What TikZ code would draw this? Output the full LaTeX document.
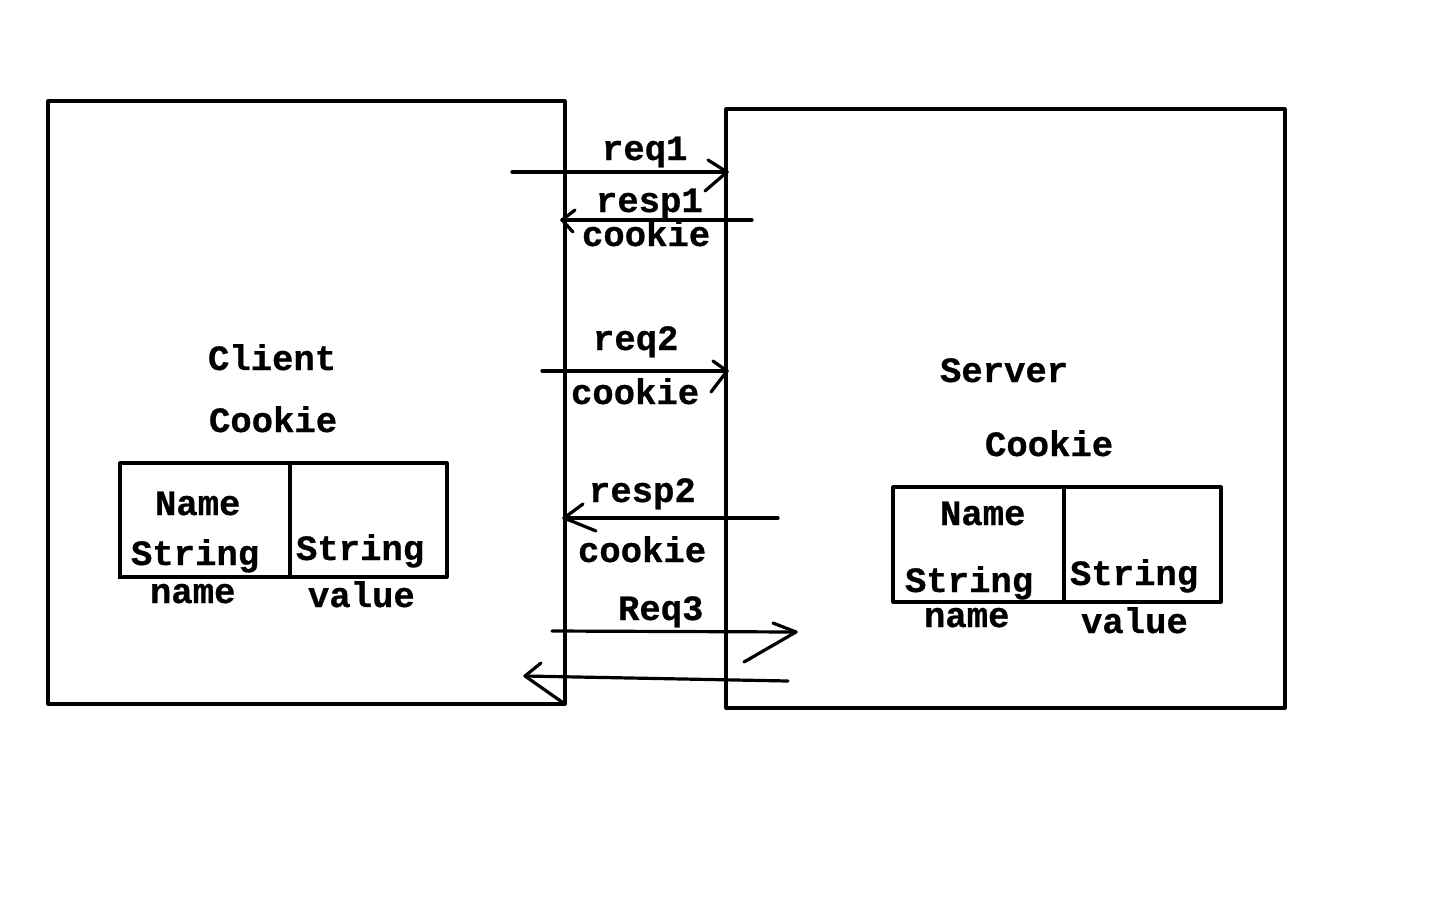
\documentclass[tikz,border=0pt]{standalone}
\usepackage{fontspec}
\newfontfamily\cmono{Liberation Mono}[BoldFeatures={FakeBold=0.7}]
\begin{document}
\begin{tikzpicture}[x=0.5pt,y=-0.5pt,
  ln/.style={line width=1.6pt,line cap=round,line join=round},
  lbl/.style={anchor=base west,inner sep=0pt,outer sep=0pt,font=\fontsize{17.8}{20}\cmono\bfseries}]
\useasboundingbox[fill=white] (0,0) rectangle (1440,900);
% boxes
\draw[ln,line cap=butt] (48,101) rectangle (565,704);
\draw[ln,line cap=butt] (726,109) rectangle (1285,708);
% client table
\draw[ln,line cap=butt] (120,463) rectangle (447,577);
\draw[ln,line cap=butt] (290,463) -- (290,577);
\draw[ln,line cap=butt] (118,577) -- (120,577);
% server table
\draw[ln,line cap=butt] (893,487) rectangle (1221,602);
\draw[ln,line cap=butt] (1064,487) -- (1064,602);
% texts
\node[lbl] (client) at (208,370) {Client};
\node[lbl] (ccookie) at (209,432) {Cookie};
\node[lbl] (cname) at (155,515) {Name};
\node[lbl] (cstr1) at (131,565) {String};
\node[lbl] (cname2) at (150,603) {name};
\node[lbl] (cstr2) at (296,560) {String};
\node[lbl] (cval) at (308,607) {value};
\node[lbl] (server) at (940,382) {Server};
\node[lbl] (scookie) at (985,456) {Cookie};
\node[lbl] (sname) at (940,525) {Name};
\node[lbl] (sstr1) at (905,592) {String};
\node[lbl] (sname2) at (924,627) {name};
\node[lbl] (sstr2) at (1070,585) {String};
\node[lbl] (sval) at (1081,633) {value};
\node[lbl] (req1) at (602,160) {req1};
\node[lbl] (resp1) at (596,212) {resp1};
\node[lbl] (ck1) at (582,246) {cookie};
\node[lbl] (req2) at (593,350) {req2};
\node[lbl] (ck2) at (571,404) {cookie};
\node[lbl] (resp2) at (589,502) {resp2};
\node[lbl] (ck3) at (578,562) {cookie};
\node[lbl] (req3) at (618,620) {Req3};
% arrow endpoints
\coordinate (a1s) at (512,172); \coordinate (a1e) at (727,172);
\coordinate (a2s) at (752,220); \coordinate (a2e) at (562,220);
\coordinate (a3s) at (542,371); \coordinate (a3e) at (727,371);
\coordinate (a4s) at (778,518); \coordinate (a4e) at (564,518);
\coordinate (a5s) at (552,631); \coordinate (a5e) at (796,632);
\coordinate (a6s) at (788,681); \coordinate (a6e) at (525,676);
% arrows
\draw[ln] (a1s) -- (a1e);
\draw[ln] (708,160) -- (a1e) -- (705,191);
\draw[ln] (a2s) -- (a2e);
\draw[ln] (575,210) -- (a2e) -- (573,232);
\draw[ln] (a3s) -- (a3e);
\draw[ln] (713,361) -- (a3e) -- (711,392);
\draw[ln] (a4s) -- (a4e);
\draw[ln] (583,504) -- (a4e) -- (596,531);
\draw[ln] (a5s) -- (a5e);
\draw[ln] (773,623) -- (a5e) -- (744,662);
\draw[ln] (a6s) -- (a6e);
\draw[ln] (541,663) -- (a6e) -- (562,702);
\end{tikzpicture}
\end{document}
